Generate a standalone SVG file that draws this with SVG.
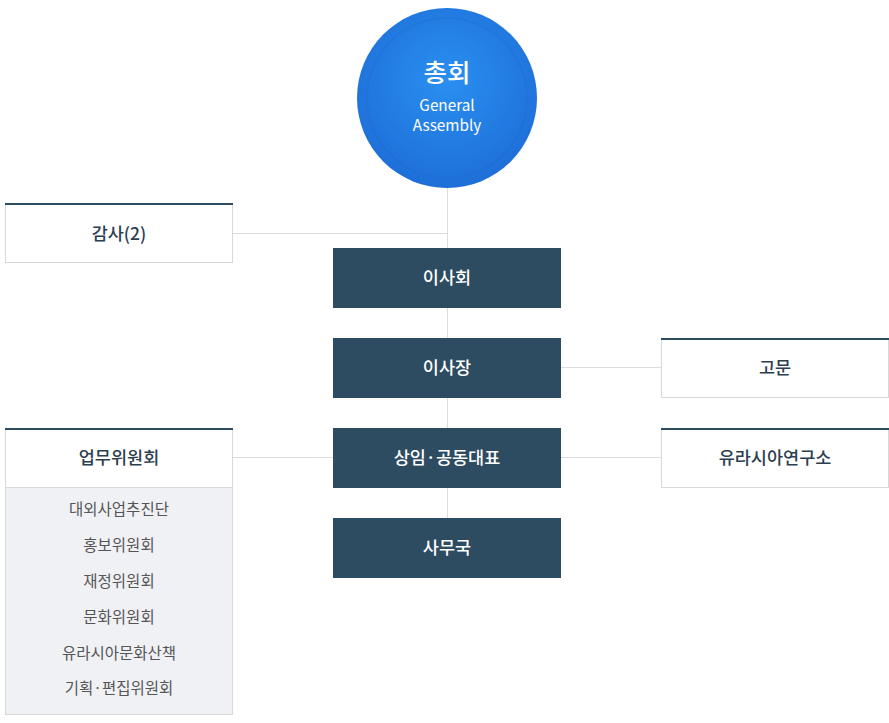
<svg xmlns="http://www.w3.org/2000/svg" width="889" height="723" viewBox="0 0 889 723">
<defs>
<radialGradient id="cg" cx="0.5" cy="0.4" r="0.6">
<stop offset="0" stop-color="#2a8ff0"/>
<stop offset="1" stop-color="#1e6fd8"/>
</radialGradient>
<style>
text{font-family:"Noto Sans CJK KR","Noto Sans",sans-serif;text-anchor:middle;}
.dark{fill:#2d4b61;}
.dt{fill:#ffffff;font-size:17.5px;font-weight:500;}
.wb{fill:#ffffff;stroke:#d8d8d8;stroke-width:1;}
.tb{stroke:#2d4b61;stroke-width:2;}
.wt{fill:#2d3e50;font-size:17.5px;font-weight:500;}
.li{fill:#555555;font-size:15.5px;}
.con{stroke:#dcdcdc;stroke-width:1;fill:none;}
</style>
</defs>
<g id="connectors">
<line class="con" x1="447.5" y1="186" x2="447.5" y2="520"/>
<line class="con" x1="232" y1="233.5" x2="447.5" y2="233.5"/>
<line class="con" x1="561" y1="367.5" x2="661" y2="367.5"/>
<line class="con" x1="232" y1="457.5" x2="333" y2="457.5"/>
<line class="con" x1="561" y1="457.5" x2="661" y2="457.5"/>
</g>
<g id="assembly">
<circle cx="447" cy="98" r="90" fill="url(#cg)"/>
<circle cx="447" cy="98" r="80" fill="none" stroke="#1a66cc" stroke-opacity="0.25" stroke-width="2"/>
<text x="447" y="82" fill="#ffffff" style="font-size:25.5px;font-weight:500">총회</text>
<text x="447" y="111" fill="#ffffff" style="font-size:15.3px">General</text>
<text x="447" y="131" fill="#ffffff" style="font-size:15.3px">Assembly</text>
</g>
<g id="audit">
<rect class="wb" x="5.5" y="203.5" width="227" height="59"/>
<line class="tb" x1="5" y1="204" x2="233" y2="204"/>
<text class="wt" x="119" y="239.5">감사(2)</text>
</g>
<g id="board">
<rect class="dark" x="333" y="248" width="228" height="60"/>
<text class="dt" x="447" y="283.5">이사회</text>
</g>
<g id="chairman">
<rect class="dark" x="333" y="338" width="228" height="60"/>
<text class="dt" x="447" y="373.5">이사장</text>
</g>
<g id="co-rep">
<rect class="dark" x="333" y="428" width="228" height="60"/>
<text class="dt" x="447" y="463.5">상임·공동대표</text>
</g>
<g id="secretariat">
<rect class="dark" x="333" y="518" width="228" height="60"/>
<text class="dt" x="447" y="553.5">사무국</text>
</g>
<g id="advisor">
<rect class="wb" x="661.5" y="338.5" width="227" height="59"/>
<line class="tb" x1="661" y1="339" x2="889" y2="339"/>
<text class="wt" x="775" y="373.5">고문</text>
</g>
<g id="institute">
<rect class="wb" x="661.5" y="428.5" width="227" height="59"/>
<line class="tb" x1="661" y1="429" x2="889" y2="429"/>
<text class="wt" x="775" y="463.5">유라시아연구소</text>
</g>
<g id="committees">
<rect class="wb" x="5.5" y="428.5" width="227" height="59"/>
<rect x="5.5" y="487.5" width="227" height="227" fill="#f0f1f5" stroke="#d8d8d8"/>
<line class="tb" x1="5" y1="429" x2="233" y2="429"/>
<text class="wt" x="119" y="463.5">업무위원회</text>
<text class="li" x="119" y="514.5">대외사업추진단</text>
<text class="li" x="119" y="550.5">홍보위원회</text>
<text class="li" x="119" y="586.5">재정위원회</text>
<text class="li" x="119" y="622.5">문화위원회</text>
<text class="li" x="119" y="658.5">유라시아문화산책</text>
<text class="li" x="119" y="693.5">기획·편집위원회</text>
</g>
</svg>
